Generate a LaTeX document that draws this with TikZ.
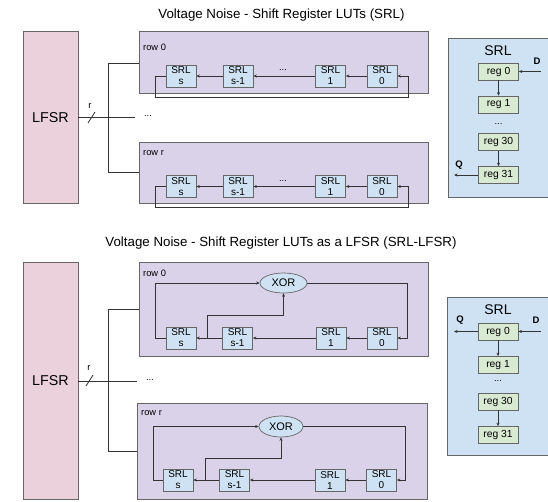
\documentclass[tikz,border=0pt]{standalone}
\usepackage{fontspec}
\setmainfont{Liberation Sans}
\usetikzlibrary{arrows.meta,shapes.geometric}
\definecolor{lfsrc}{HTML}{EAD1DC}
\definecolor{rowc}{HTML}{D9D2E9}
\definecolor{srlc}{HTML}{CFE2F3}
\definecolor{regc}{HTML}{D9EAD3}
\definecolor{edgec}{HTML}{666666}
\definecolor{wirec}{HTML}{333333}
\tikzset{
  lfsrbox/.style={draw=edgec,fill=lfsrc,line width=0.7pt,minimum width=55pt,inner sep=0pt,font=\fontsize{14.3}{16}\selectfont},
  rowbox/.style={draw=edgec,fill=rowc,line width=0.7pt,inner sep=0pt},
  srlbox/.style={draw=edgec,fill=srlc,line width=0.7pt,minimum width=30pt,minimum height=22pt,inner sep=0pt,align=center,font=\fontsize{10}{11}\selectfont},
  panel/.style={draw=edgec,fill=srlc,line width=0.7pt,inner sep=0pt},
  regbox/.style={draw=edgec,fill=regc,line width=0.7pt,minimum width=40pt,minimum height=17pt,inner sep=0pt,font=\fontsize{10.3}{12}\selectfont},
  xorbox/.style={ellipse,draw=edgec,fill=srlc,line width=0.7pt,inner sep=0pt,font=\fontsize{11}{13}\selectfont},
  lbl/.style={inner sep=0pt,font=\fontsize{9.3}{11}\selectfont},
  ttl/.style={inner sep=0pt,font=\fontsize{13.3}{15}\selectfont},
  bl/.style={inner sep=0pt,font=\fontsize{9.5}{11}\bfseries},
  wire/.style={draw=wirec,line width=0.8pt},
  arr/.style={wire,-{Stealth[length=3.5pt,width=3pt]}},
}
\begin{document}
\begin{tikzpicture}[x=1pt,y=-1pt]
\useasboundingbox (0,0) rectangle (548,501);
% ===== TOP =====
\node[ttl] (t1) at (281.5,15) {Voltage Noise - Shift Register LUTs (SRL)};
\node[lfsrbox,minimum height=172pt] (L1) at (50.5,117.5) {LFSR};
\node[rowbox,minimum width=289pt,minimum height=62pt] (R0a) at (283.5,62) {};
\node[rowbox,minimum width=289pt,minimum height=61pt] (Rra) at (283.5,172.5) {};
\node[lbl,anchor=west] (R0al) at (143,47) {row 0};
\node[lbl,anchor=west] (Rral) at (143,153) {row r};
% row 0 top
\node[srlbox] (a0s) at (181,76) {SRL\\s};
\node[srlbox] (a0s1) at (238,76) {SRL\\s-1};
\node[srlbox] (a01) at (330.5,76) {SRL\\1};
\node[srlbox] (a00) at (382,76) {SRL\\0};
\node[lbl] (a0d) at (283,70) {...};
\draw[arr] (a00.west) -- (a01.east);
\draw[arr] (a01.west) -- (a0s1.east);
\draw[arr] (a0s1.west) -- (a0s.east);
\draw[arr] (a0s.west) -- (155,76) -- (155,97) -- (408,97) -- (408,76) -- (a00.east);
% row r top
\node[srlbox] (ars) at (181,186.5) {SRL\\s};
\node[srlbox] (ars1) at (238,186.5) {SRL\\s-1};
\node[srlbox] (ar1) at (330.5,186.5) {SRL\\1};
\node[srlbox] (ar0) at (382,186.5) {SRL\\0};
\node[lbl] (ard) at (283,180.5) {...};
\draw[arr] (ar0.west) -- (ar1.east);
\draw[arr] (ar1.west) -- (ars1.east);
\draw[arr] (ars1.west) -- (ars.east);
\draw[arr] (ars.west) -- (155,186.5) -- (155,207) -- (408,207) -- (408,186.5) -- (ar0.east);
% LFSR bus top
\coordinate (b1e) at (135,117.5);
\draw[wire] (L1.east |- b1e) -- (b1e);
\node[lbl] (b1d) at (148,116) {...};
\draw[wire] (88,123) -- (95,112);
\node[lbl] (b1r) at (90,106) {r};
\draw[wire] (108,63) -- (108,172);
\draw[wire] (108,63) -- (R0a.west |- 0,63);
\draw[wire] (108,172) -- (Rra.west |- 0,172);
% SRL panel top
\node[panel,anchor=north west,minimum width=104pt,minimum height=159pt] (P1) at (448,38) {};
\node[inner sep=0pt,font=\fontsize{14}{16}\selectfont] (P1t) at (498,51) {SRL};
\node[regbox] (g10) at (498.5,71.5) {reg 0};
\node[regbox] (g11) at (498.5,104.5) {reg 1};
\node[lbl] (g1d) at (498.5,124) {...};
\node[regbox] (g130) at (498.5,142) {reg 30};
\node[regbox] (g131) at (498.5,175) {reg 31};
\draw[arr] (g10.south) -- (g11.north);
\draw[arr] (g130.south) -- (g131.north);
\coordinate (D1) at (541,71.5);
\draw[arr] (D1) -- (g10.east);
\node[bl] (D1l) at (537,61) {D};
\coordinate (Q1) at (454,175);
\draw[arr] (g131.west) -- (Q1);
\node[bl] (Q1l) at (459,165) {Q};
% ===== BOTTOM =====
\node[ttl] (t2) at (281,243) {Voltage Noise - Shift Register LUTs as a LFSR (SRL-LFSR)};
\node[lfsrbox,minimum height=237pt] (L2) at (50.5,380.5) {LFSR};
\node[rowbox,minimum width=289pt,minimum height=94pt] (R0b) at (283.5,309) {};
\node[rowbox,minimum width=290pt,minimum height=96pt] (Rrb) at (282,451) {};
\node[lbl,anchor=west] (R0bl) at (143,273) {row 0};
\node[lbl,anchor=west] (Rrbl) at (141,413) {row r};
% row 0 bottom
\node[xorbox,minimum width=47pt,minimum height=20pt] (x0) at (283.5,283) {XOR};
\node[srlbox] (b0s) at (181,338) {SRL\\s};
\node[srlbox] (b0s1) at (237.5,338) {SRL\\s-1};
\node[srlbox] (b01) at (331,338) {SRL\\1};
\node[srlbox] (b00) at (382,338) {SRL\\0};
\draw[arr] (b00.west) -- (b01.east);
\draw[arr] (b01.west) -- (b0s1.east);
\draw[arr] (b0s1.west) -- (b0s.east);
\draw[arr] (207,338) -- (207,315) -- (x0.south |- 0,315) -- (x0.south);
\draw[arr] (x0.east) -- (407,283) -- (407,338) -- (b00.east);
\draw[arr] (b0s.west) -- (155,338) -- (155,283) -- (x0.west);
% row r bottom
\node[xorbox,minimum width=44pt,minimum height=21pt] (xr) at (281,426.5) {XOR};
\node[srlbox] (brs) at (178,480) {SRL\\s};
\node[srlbox] (brs1) at (234.5,480) {SRL\\s-1};
\node[srlbox] (br1) at (330,480) {SRL\\1};
\node[srlbox] (br0) at (381.5,480) {SRL\\0};
\draw[arr] (br0.west) -- (br1.east);
\draw[arr] (br1.west) -- (brs1.east);
\draw[arr] (brs1.west) -- (brs.east);
\draw[arr] (205,480) -- (205,458) -- (xr.south |- 0,458) -- (xr.south);
\draw[arr] (xr.east) -- (405,426.5) -- (405,480) -- (br0.east);
\draw[arr] (brs.west) -- (153,480) -- (153,426.5) -- (xr.west);
% LFSR bus bottom
\coordinate (b2e) at (137,381);
\draw[wire] (L2.east |- b2e) -- (b2e);
\node[lbl] (b2d) at (150,380) {...};
\draw[wire] (86,386) -- (93,375);
\node[lbl] (b2r) at (89,368) {r};
\draw[wire] (108,309) -- (108,451);
\draw[wire] (108,309) -- (R0b.west |- 0,309);
\draw[wire] (108,451) -- (Rrb.west |- 0,451);
% SRL panel bottom
\node[panel,anchor=north west,minimum width=105pt,minimum height=158pt] (P2) at (447,297) {};
\node[inner sep=0pt,font=\fontsize{14}{16}\selectfont] (P2t) at (498,310) {SRL};
\node[regbox] (g20) at (498,331.5) {reg 0};
\node[regbox] (g21) at (498,365) {reg 1};
\node[lbl] (g2d) at (498,381) {...};
\node[regbox] (g230) at (498,401.5) {reg 30};
\node[regbox] (g231) at (498,435) {reg 31};
\draw[arr] (g20.south) -- (g21.north);
\draw[arr] (g230.south) -- (g231.north);
\coordinate (D2) at (541,331.5);
\draw[arr] (D2) -- (g20.east);
\node[bl] (D2l) at (536,320) {D};
\coordinate (Q2) at (454,331.5);
\draw[arr] (g20.west) -- (Q2);
\node[bl] (Q2l) at (460,320) {Q};
\end{tikzpicture}
\end{document}
